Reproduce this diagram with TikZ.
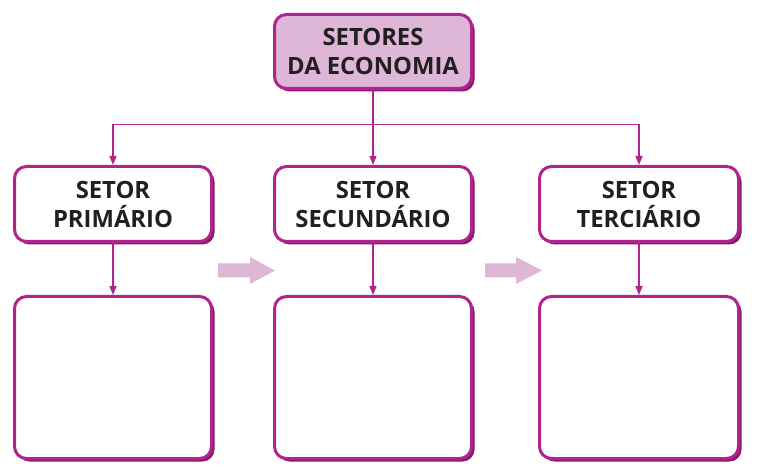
\documentclass[tikz,border=0pt]{standalone}
\usepackage{fontspec}
\setmainfont{Open Sans}
\usetikzlibrary{arrows.meta,shadows}
\definecolor{mag}{RGB}{176,36,142}
\definecolor{magdark}{RGB}{138,24,112}
\definecolor{pinkfill}{RGB}{222,183,216}
\definecolor{pinkarrow}{RGB}{222,182,214}
\definecolor{ink}{RGB}{35,31,32}
\begin{document}
\begin{tikzpicture}[x=1pt,y=-1pt,
  box/.style={draw=mag, line width=3pt, rounded corners=12pt, fill=white,
    align=center, inner sep=0pt, text=ink,
    font=\bfseries\fontsize{23.8}{29}\selectfont,
    drop shadow={shadow xshift=3pt, shadow yshift=-3pt, fill=magdark, opacity=1}},
  conn/.style={draw=mag, line width=1.4pt},
  arr/.style={conn, -{Triangle[length=9pt,width=7pt]}},
  bigarrow/.style={fill=pinkarrow, draw=none}]
\useasboundingbox (0,0) rectangle (780,473);
% top box
\node[box, fill=pinkfill, minimum width=197pt, minimum height=74pt] (top) at (373,51.5) {SETORES\\DA ECONOMIA};
% middle boxes
\node[box, minimum width=197pt, minimum height=75pt] (b1) at (113,204) {SETOR\\PRIMÁRIO};
\node[box, minimum width=197pt, minimum height=75pt] (b2) at (373,204) {SETOR\\SECUNDÁRIO};
\node[box, minimum width=199pt, minimum height=75pt] (b3) at (639,204) {SETOR\\TERCIÁRIO};
% lower boxes
\node[box, minimum width=197pt, minimum height=162pt] (c1) at (113,377.5) {};
\node[box, minimum width=197pt, minimum height=162pt] (c2) at (373,377.5) {};
\node[box, minimum width=199pt, minimum height=162pt] (c3) at (639,377.5) {};
% connectors
\coordinate (j) at (373,124.5);
\draw[conn] (top.south) -- (j);
\draw[arr] (j) -| (b1.north);
\draw[arr] (j) -- (b2.north);
\draw[arr] (j) -| (b3.north);
\draw[arr] (b1.south) -- (c1.north);
\draw[arr] (b2.south) -- (c2.north);
\draw[arr] (b3.south) -- (c3.north);
% big pink arrows
\path[bigarrow] (218,263.5) -- (250,263.5) -- (250,257) -- (275,270.5) -- (250,284) -- (250,277.5) -- (218,277.5) -- cycle;
\path[bigarrow] (485,263.5) -- (516,263.5) -- (516,257) -- (542,270.5) -- (516,284) -- (516,277.5) -- (485,277.5) -- cycle;
\end{tikzpicture}
\end{document}
